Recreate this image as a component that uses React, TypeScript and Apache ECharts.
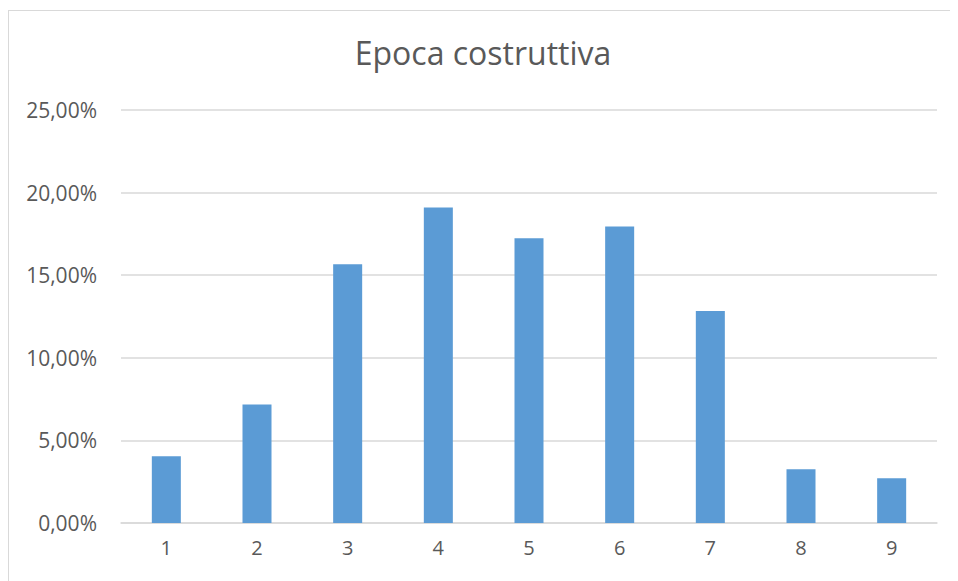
import React, { useEffect, useRef } from "react";
import * as echarts from "echarts";

const categories = ["1", "2", "3", "4", "5", "6", "7", "8", "9"];
const values = [4.04, 7.17, 15.66, 19.1, 17.23, 17.95, 12.83, 3.25, 2.71];
const yTicks = { min: 0, max: 25, interval: 5 };

export default function App() {
  const ref = useRef<HTMLDivElement>(null);
  useEffect(() => {
    if (!ref.current) return;
    const chart = echarts.init(ref.current, undefined, { renderer: "svg" });
    chart.setOption({
      animation: false,
      backgroundColor: "#ffffff",
      title: {
        text: "Epoca costruttiva",
        left: "center",
        top: 20,
        textStyle: { fontFamily: "Open Sans", fontSize: 32, fontWeight: "normal", color: "#595959" },
      },
      grid: { left: 112, right: 20, top: 99, bottom: 57 },
      xAxis: {
        type: "category",
        data: categories,
        axisLine: { lineStyle: { color: "#d9d9d9", width: 1.5 } },
        axisTick: { show: false },
        axisLabel: { color: "#595959", fontSize: 20, fontFamily: "Open Sans", margin: 14 },
      },
      yAxis: {
        type: "value",
        min: yTicks.min,
        max: yTicks.max,
        interval: yTicks.interval,
        axisLine: { show: false },
        axisTick: { show: false },
        splitLine: { lineStyle: { color: "#d9d9d9", width: 1.5 } },
        axisLabel: {
          color: "#595959",
          fontSize: 21,
          fontFamily: "Open Sans",
          margin: 24,
          formatter: (v: number) => v.toFixed(2).replace(".", ",") + "%",
        },
      },
      series: [
        {
          type: "bar",
          data: values,
          barWidth: "32%",
          itemStyle: { color: "#5b9bd5" },
        },
      ],
    });
    return () => chart.dispose();
  }, []);
  return (
    <div
      style={{
        marginTop: 2,
        width: 950,
        height: 571,
        borderLeft: "1.5px solid #d9d9d9",
        borderTop: "1.5px solid #d9d9d9",
        boxSizing: "border-box",
      }}
    >
      <div ref={ref} style={{ width: 948, height: 569 }} />
    </div>
  );
}
